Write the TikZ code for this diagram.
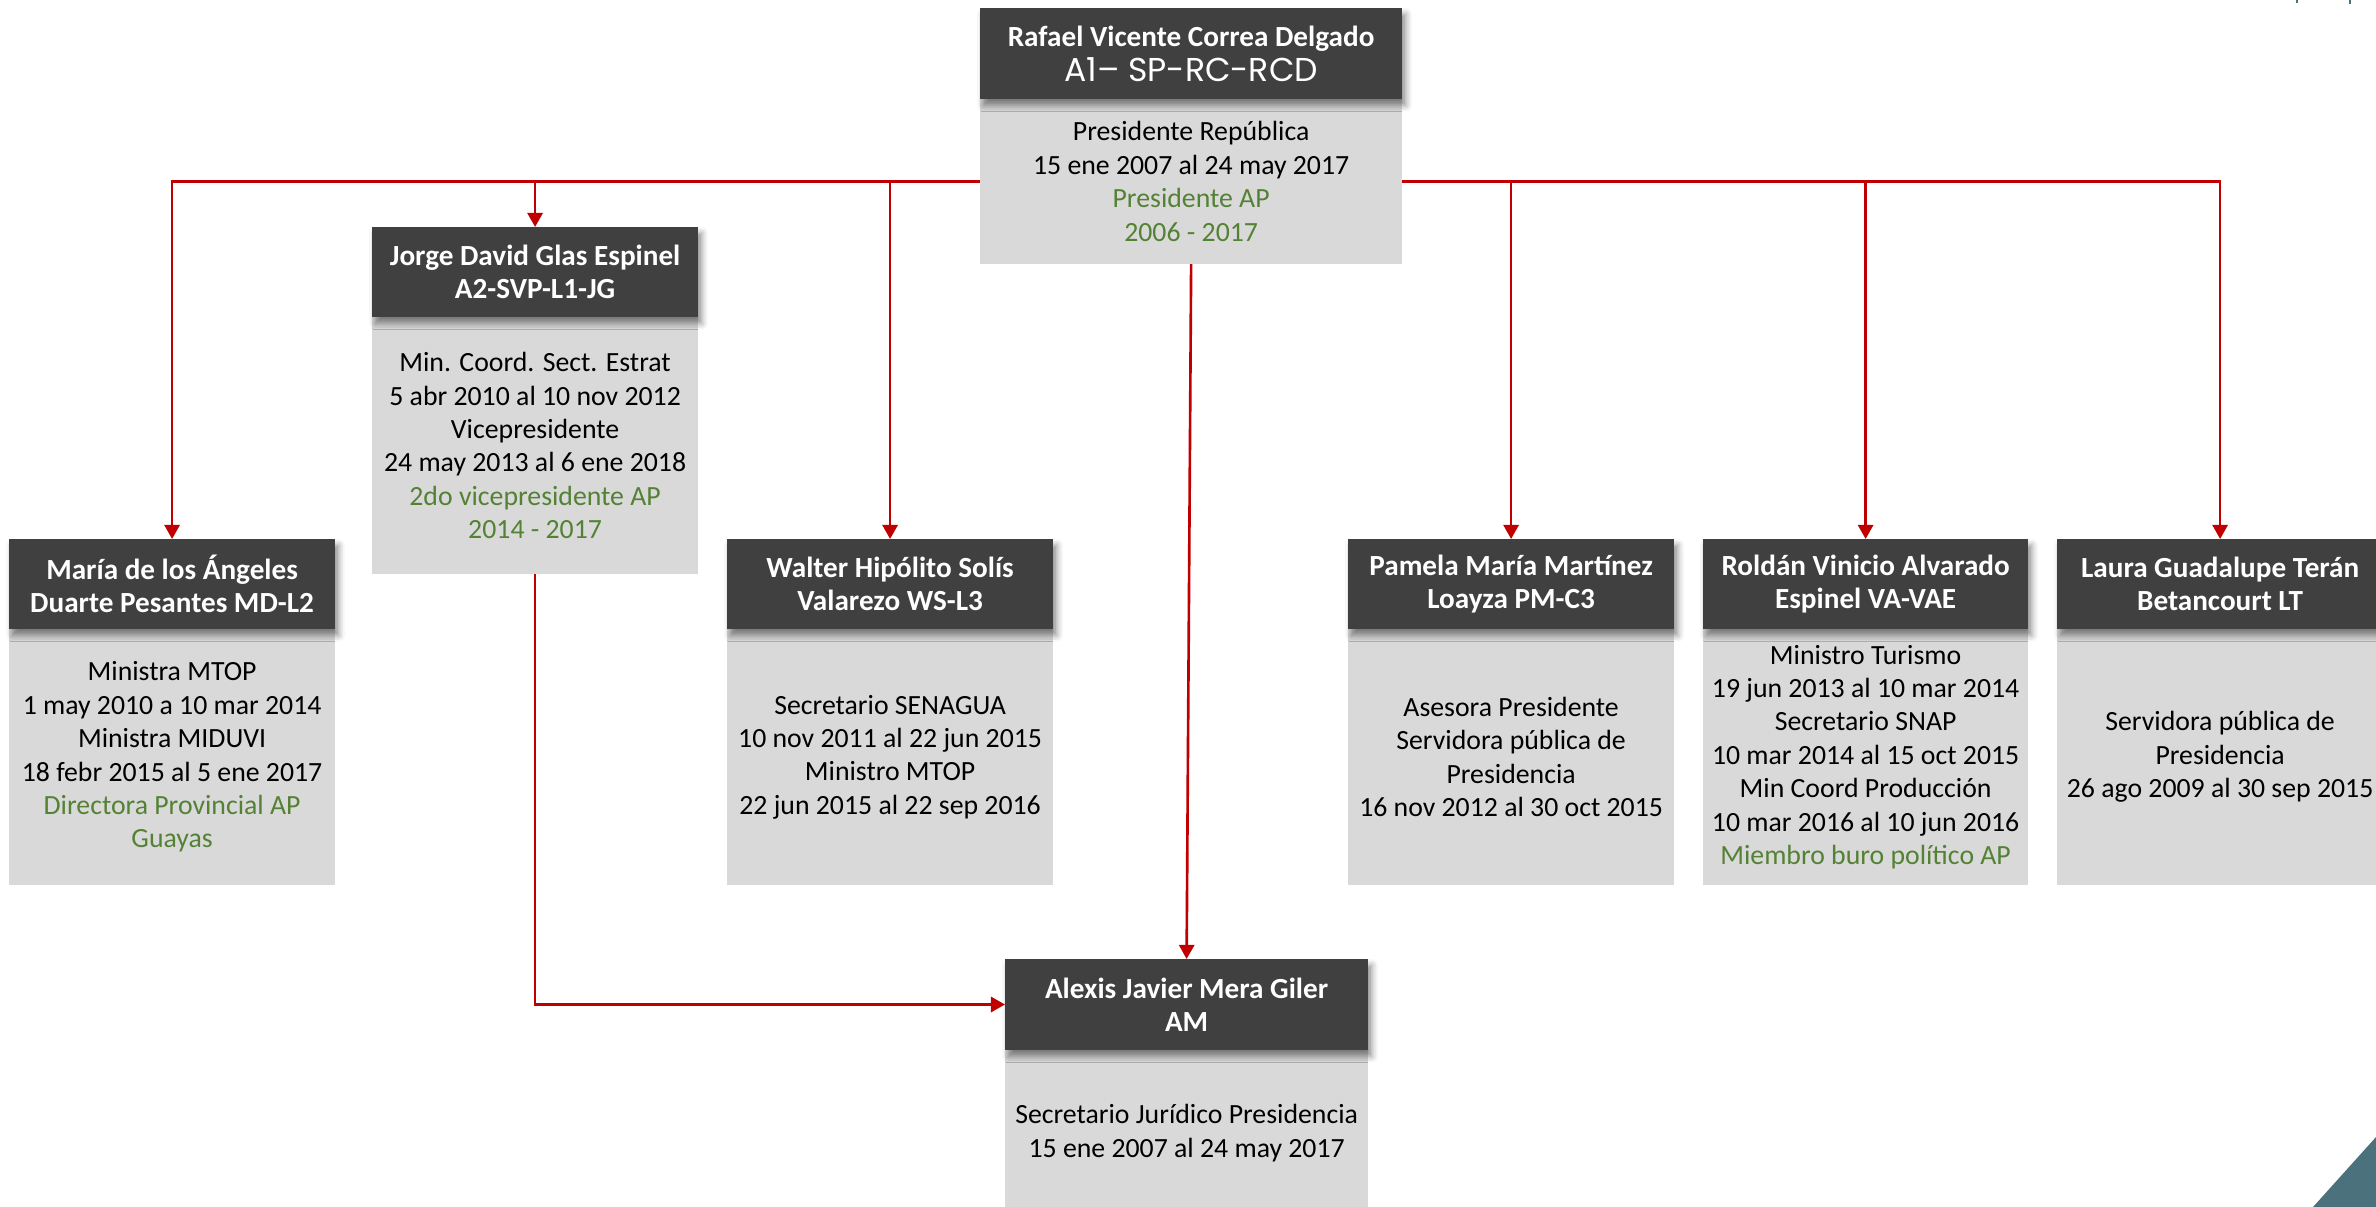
\documentclass[tikz,border=0pt]{standalone}
\usepackage{fontspec}
\setmainfont{Carlito}
\newfontfamily\codefont{Poppins}
\usetikzlibrary{arrows.meta,shadows.blur}
\definecolor{hdrgray}{HTML}{404040}
\definecolor{bodygray}{HTML}{D9D9D9}
\definecolor{apgreen}{HTML}{548235}
\definecolor{linered}{HTML}{C00000}
\definecolor{cornerteal}{HTML}{4A717C}
\pgfdeclarelayer{bg}
\pgfsetlayers{bg,main}
\newcommand{\gr}[1]{\textcolor{apgreen}{#1}}
\begin{document}
\begin{tikzpicture}[x=0.01cm,y=-0.01cm,
  hdr/.style={fill=hdrgray,text=white,font=\fontsize{8.3pt}{9.5pt}\selectfont\bfseries,align=center,
    inner sep=0pt,outer sep=0pt,anchor=north west,minimum height=0.90cm,
    blur shadow={shadow xshift=1pt,shadow yshift=-1.8pt,shadow blur radius=1.8pt,shadow opacity=45}},
  bodybox/.style={fill=bodygray,text=black,font=\fontsize{7.9pt}{9.5pt}\selectfont,align=center,
    inner sep=0pt,outer sep=0pt,anchor=north west},
  conn/.style={draw=linered,line width=0.75pt,-{Triangle[width=4.3pt,length=4pt]}},
  ]
\useasboundingbox (0,0) rectangle (2376,1207);
\clip (0,0) rectangle (2376,1207);

% top
\node[bodybox,minimum width=4.22cm,minimum height=1.65cm] (topb) at (980,99)
  {Presidente República\\15 ene 2007 al 24 may 2017\\\gr{Presidente AP}\\\gr{2006 - 2017}};
\node[hdr,minimum width=4.22cm,minimum height=0.91cm] (toph) at (980,8)
  {Rafael Vicente Correa Delgado\\[0.4pt]{\codefont\mdseries\fontsize{9.4pt}{10pt}\selectfont A1– SP-RC-RCD}};

% Jorge
\node[bodybox,minimum width=3.26cm,minimum height=2.57cm] (jorgeb) at (372,317)
  {Min. Coord. Sect. Estrat\\5 abr 2010 al 10 nov 2012\\Vicepresidente\\24 may 2013 al 6 ene 2018\\\gr{2do vicepresidente AP}\\\gr{2014 - 2017}};
\node[hdr,minimum width=3.26cm] (jorgeh) at (372,227)
  {Jorge David Glas Espinel\\A2-SVP-L1-JG};

% Maria
\node[bodybox,minimum width=3.26cm,minimum height=2.56cm] (mariab) at (9,629)
  {Ministra MTOP\\1 may 2010 a 10 mar 2014\\Ministra MIDUVI\\18 febr 2015 al 5 ene 2017\\\gr{Directora Provincial AP}\\\gr{Guayas}};
\node[hdr,minimum width=3.26cm] (mariah) at (9,539)
  {María de los Ángeles\\Duarte Pesantes MD-L2};

% Walter
\node[bodybox,minimum width=3.26cm,minimum height=2.56cm] (walterb) at (727,629)
  {Secretario SENAGUA\\10 nov 2011 al 22 jun 2015\\Ministro MTOP\\22 jun 2015 al 22 sep 2016};
\node[hdr,minimum width=3.26cm] (walterh) at (727,539)
  {Walter Hipólito Solís\\Valarezo WS-L3};

% Pamela
\node[bodybox,minimum width=3.26cm,minimum height=2.56cm] (pamelab) at (1348,629)
  {Asesora Presidente\\Servidora pública de\\Presidencia\\16 nov 2012 al 30 oct 2015};
\node[hdr,minimum width=3.26cm] (pamelah) at (1348,539)
  {Pamela María Martínez\\Loayza PM-C3};

% Roldan
\node[bodybox,minimum width=3.25cm,minimum height=2.56cm] (roldanb) at (1703,629)
  {Ministro Turismo\\19 jun 2013 al 10 mar 2014\\Secretario SNAP\\10 mar 2014 al 15 oct 2015\\Min Coord Producción\\10 mar 2016 al 10 jun 2016\\\gr{Miembro buro político AP}};
\node[hdr,minimum width=3.25cm] (roldanh) at (1703,539)
  {Roldán Vinicio Alvarado\\Espinel VA-VAE};

% Laura
\node[bodybox,minimum width=3.26cm,minimum height=2.56cm] (laurab) at (2057,629)
  {Servidora pública de\\Presidencia\\26 ago 2009 al 30 sep 2015};
\node[hdr,minimum width=3.26cm] (laurah) at (2057,539)
  {Laura Guadalupe Terán\\Betancourt LT};

% Alexis
\node[bodybox,minimum width=3.63cm,minimum height=1.66cm] (alexisb) at (1005,1050)
  {Secretario Jurídico Presidencia\\15 ene 2007 al 24 may 2017};
\node[hdr,minimum width=3.63cm,minimum height=0.91cm] (alexish) at (1005,959)
  {Alexis Javier Mera Giler\\AM};

% connectors
\begin{pgfonlayer}{bg}
\draw[conn] (topb.west) -| (mariah.north);
\draw[conn] (topb.west) -| (jorgeh.north);
\draw[conn] (topb.west) -| (walterh.north);
\draw[conn] (topb.east) -| (pamelah.north);
\draw[conn] (topb.east) -| (roldanh.north);
\draw[conn] (topb.east) -| (laurah.north);
\draw[conn] (topb.south) -- (alexish.north);
\draw[conn] (jorgeb.south) |- (alexish.west);
\end{pgfonlayer}

% decorations
\fill[cornerteal] (2313,1207) -- (2376,1137) -- (2376,1207) -- cycle;
\fill[cornerteal] (2296,0) rectangle (2298,3);
\fill[cornerteal] (2349,0) rectangle (2351,4);
\end{tikzpicture}
\end{document}
